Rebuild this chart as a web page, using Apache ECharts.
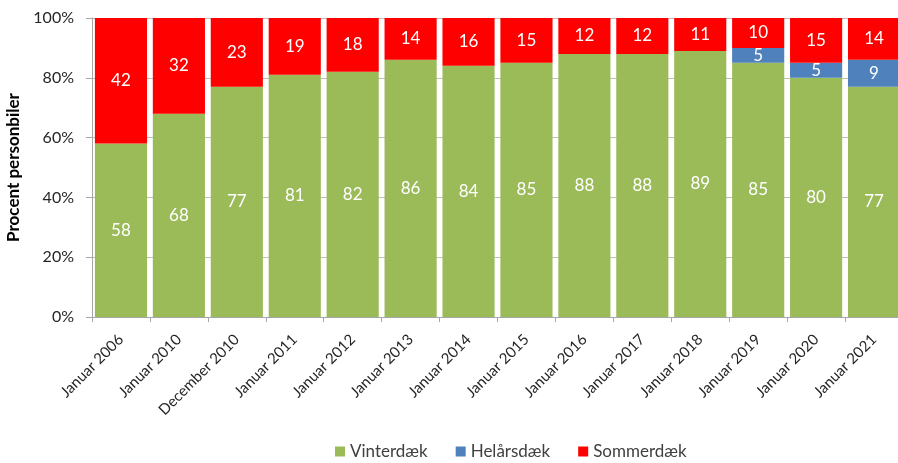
<!DOCTYPE html>
<html>
<head>
<meta charset="utf-8">
<script src="https://cdn.jsdelivr.net/npm/echarts@6/dist/echarts.min.js"></script>
<style>
  html, body { margin: 0; padding: 0; background: #fff; }
  #chart { width: 898px; height: 463px; }
</style>
</head>
<body>
<div id="chart"></div>
<script>
const categories = ['Januar 2006', 'Januar 2010', 'December 2010', 'Januar 2011', 'Januar 2012', 'Januar 2013',
  'Januar 2014', 'Januar 2015', 'Januar 2016', 'Januar 2017', 'Januar 2018', 'Januar 2019', 'Januar 2020', 'Januar 2021']
const vinter = [58, 68, 77, 81, 82, 86, 84, 85, 88, 88, 89, 85, 80, 77]
const helaar = [null, null, null, null, null, null, null, null, null, null, null, 5, 5, 9]
const sommer = [42, 32, 23, 19, 18, 14, 16, 15, 12, 12, 11, 10, 15, 14]
const yTicks = [0, 20, 40, 60, 80, 100]

const font = 'Lato, "Open Sans", sans-serif'
const barLabel = {
  show: true,
  position: 'inside',
  color: '#fff',
  fontSize: 17,
  fontFamily: font
}

let oChart = echarts.init(document.getElementById('chart'))
let option = {
  animation: false,
  textStyle: { fontFamily: font },
  grid: { left: 92, right: -5, top: 18, bottom: 146, containLabel: false, outerBoundsMode: 'none' },
  legend: {
    bottom: -2,
    left: 330,
    itemWidth: 10,
    itemHeight: 10,
    itemGap: 28,
    icon: 'rect',
    textStyle: { color: '#404040', fontSize: 17, fontFamily: font },
    data: ['Vinterdæk', 'Helårsdæk', 'Sommerdæk']
  },
  xAxis: {
    type: 'category',
    data: categories,
    axisLine: { lineStyle: { color: '#a6a6a6' } },
    axisTick: { show: true, alignWithLabel: false, length: 5, lineStyle: { color: '#a6a6a6' } },
    axisLabel: { rotate: 45, color: '#262626', fontSize: 15, fontFamily: font, interval: 0, margin: 20 }
  },
  yAxis: {
    type: 'value',
    min: yTicks[0],
    max: yTicks[yTicks.length - 1],
    interval: 20,
    name: 'Procent personbiler',
    nameLocation: 'middle',
    nameGap: 63,
    nameTextStyle: { color: '#000', fontWeight: 'bold', fontSize: 17, fontFamily: font },
    axisLine: { show: true, lineStyle: { color: '#a6a6a6' } },
    axisTick: { show: true, length: 6, lineStyle: { color: '#a6a6a6' } },
    axisLabel: { formatter: '{value}%', color: '#262626', fontSize: 16, fontFamily: font, margin: 18 },
    splitLine: { show: true, lineStyle: { color: '#bfbfbf' } }
  },
  series: [
    {
      name: 'Vinterdæk', type: 'bar', stack: 'total', barCategoryGap: '10%',
      itemStyle: { color: '#9bbb59' }, label: barLabel, data: vinter
    },
    {
      name: 'Helårsdæk', type: 'bar', stack: 'total',
      itemStyle: { color: '#4f81bd' }, label: barLabel, data: helaar
    },
    {
      name: 'Sommerdæk', type: 'bar', stack: 'total',
      itemStyle: { color: '#ff0000' }, label: barLabel, data: sommer
    }
  ]
}
oChart.setOption(option)
</script>
</body>
</html>
